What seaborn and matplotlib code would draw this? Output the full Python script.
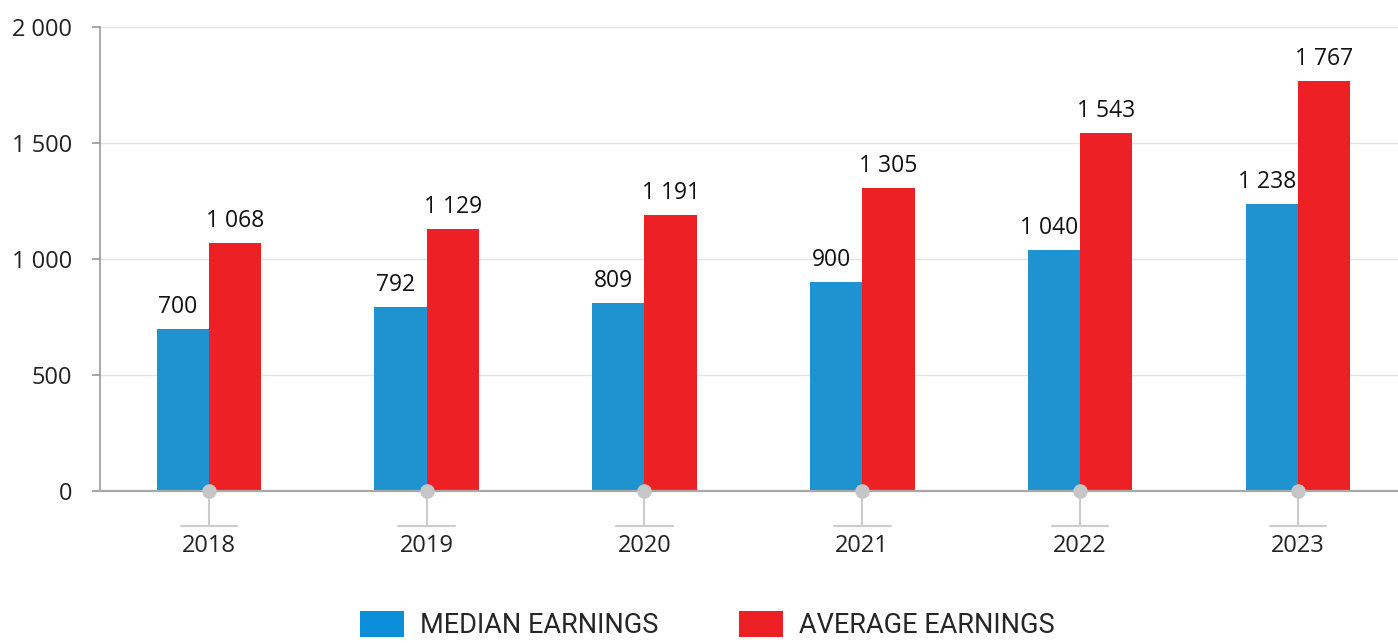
import matplotlib
matplotlib.use("Agg")
import matplotlib.pyplot as plt
import matplotlib.font_manager as fm
import matplotlib.transforms as mtransforms
import pandas as pd
import seaborn as sns

# data
years = ["2018", "2019", "2020", "2021", "2022", "2023"]
median_earnings = [700, 792, 809, 900, 1040, 1238]
average_earnings = [1068, 1129, 1191, 1305, 1543, 1767]
series_names = ["MEDIAN EARNINGS", "AVERAGE EARNINGS"]
y_ticks = [0, 500, 1000, 1500, 2000]

df = pd.DataFrame({
    "year": years * 2,
    "value": median_earnings + average_earnings,
    "series": [series_names[0]] * len(years) + [series_names[1]] * len(years),
})

sns.set_style("white")
plt.rcParams["font.family"] = ["Open Sans", "DejaVu Sans"]
names = {f.name for f in fm.fontManager.ttflist}
legend_font = "Liberation Sans Narrow" if "Liberation Sans Narrow" in names else "Roboto"

blue = "#1f93d0"
red = "#ed2125"

fig = plt.figure(figsize=(13.98, 6.43), dpi=100)
ax = fig.add_axes([0.0715, 0.2364, 0.9285, 0.7216])

sns.barplot(data=df, x="year", y="value", hue="series", palette=[blue, red],
            width=0.48, gap=0, saturation=1, ax=ax, legend=False, linewidth=0)

def fmt(v):
    return f"{int(v):,}".replace(",", " ")

# value labels, the median ones sit a little left of their bar
for cont, dx in zip(ax.containers, [-5, 0]):
    for b in cont:
        ax.annotate(fmt(b.get_height()), (b.get_x() + b.get_width() / 2, b.get_height()),
                    xytext=(dx, 10), textcoords="offset pixels", ha="center", va="bottom",
                    fontsize=16.5, color="#111111")

ax.set_ylim(0, 2000)
ax.set_xlim(-0.5, 5.46)
ax.set_yticks(y_ticks)
ax.set_yticklabels([fmt(v) for v in y_ticks], fontsize=17, color="#222222")
ax.yaxis.grid(True, color="#e3e3e3", linewidth=1)
ax.set_axisbelow(True)
ax.set_xlabel("")
ax.set_ylabel("")

for s in ["top", "right"]:
    ax.spines[s].set_visible(False)
ax.spines["left"].set_color("#9a9a9a")
ax.spines["left"].set_linewidth(1.2)
ax.spines["bottom"].set_color("#a8a8a8")
ax.spines["bottom"].set_linewidth(1.6)
ax.spines["bottom"].set_zorder(5)

ax.tick_params(axis="y", length=6, color="#9a9a9a", width=1.2, pad=14, left=True)
ax.tick_params(axis="x", length=25, color="#cccccc", width=1.5, pad=6,
               labelsize=17, labelcolor="#222222", bottom=True)

# tick decoration: short horizontal bars under ticks and gray dots on axis
trans = mtransforms.blended_transform_factory(ax.transData, ax.transAxes)
for i in range(len(years)):
    ax.plot([i - 0.13, i + 0.13], [-0.0754, -0.0754], color="#cccccc", lw=1.5,
            transform=trans, clip_on=False)
ax.scatter(range(len(years)), [0] * len(years), s=110, color="#c6c6c6",
           zorder=6, clip_on=False, linewidths=0)

handles = [plt.Rectangle((0, 0), 1, 1, facecolor=c, edgecolor="none") for c in ["#0a8fd8", red]]
fig.legend(handles, series_names, loc="center", bbox_to_anchor=(0.506, 0.028),
           ncol=2, frameon=False, handlelength=1.6, handleheight=1.1,
           columnspacing=3.0, handletextpad=0.6,
           prop={"family": legend_font, "size": 19.5})

fig.savefig("out.png", dpi=100)
